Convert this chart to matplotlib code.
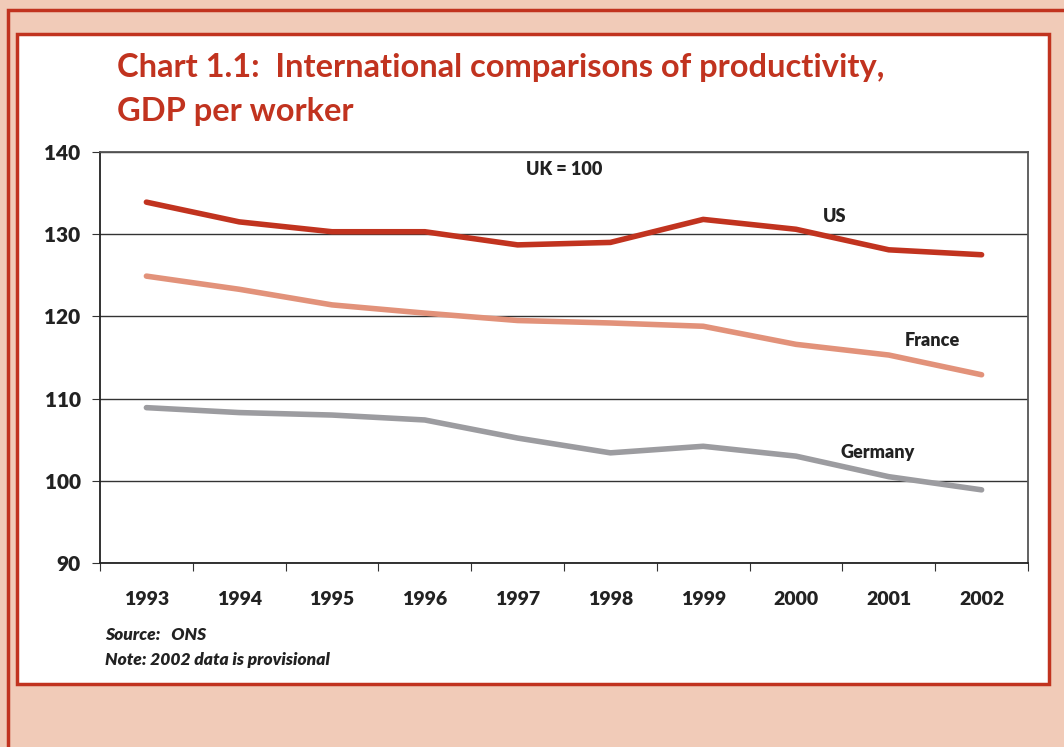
import matplotlib.pyplot as plt
from matplotlib.patches import Rectangle

# 데이터 (UK = 100)
years = ['1993', '1994', '1995', '1996', '1997', '1998', '1999', '2000', '2001', '2002']
us = [133.9, 131.5, 130.3, 130.3, 128.7, 129.0, 131.8, 130.6, 128.1, 127.5]
france = [124.9, 123.3, 121.4, 120.4, 119.5, 119.2, 118.8, 116.6, 115.3, 112.9]
germany = [108.9, 108.3, 108.0, 107.4, 105.2, 103.4, 104.2, 103.0, 100.5, 98.9]

RED = '#C1331F'
PINK = '#F1CBB8'
FONT = 'Lato'

W, H = 1064, 747
fig = plt.figure(figsize=(W / 100, H / 100), dpi=100)
fig.patch.set_facecolor(PINK)

def fx(px): return px / W
def fy(py): return 1 - py / H

# 바깥 테두리 + 안쪽 흰 박스 (축 뒤에 그림)
fig.patches.append(Rectangle((fx(8), fy(760)), fx(1100), fy(10) - fy(760),
                             transform=fig.transFigure, fill=False,
                             edgecolor=RED, linewidth=2.5, zorder=-2))
fig.patches.append(Rectangle((fx(17), fy(684)), fx(1049 - 17), fy(34) - fy(684),
                             transform=fig.transFigure, facecolor='white',
                             edgecolor=RED, linewidth=2.5, zorder=-1))

ax = fig.add_axes([fx(100), fy(563), fx(1028 - 100), fy(152) - fy(563)])
ax.set_facecolor('white')
x = range(len(years))
ax.plot(x, us, color=RED, lw=4, solid_capstyle='round', zorder=3)
ax.plot(x, france, color='#E2927A', lw=4, solid_capstyle='round', zorder=3)
ax.plot(x, germany, color='#9C9CA0', lw=4, solid_capstyle='round', zorder=3)

ax.set_xlim(-0.5, len(years) - 0.5)
ax.set_ylim(90, 140)
ax.set_yticks(range(90, 141, 10))
ax.set_yticklabels([str(v) for v in range(90, 141, 10)], fontsize=15,
                   fontfamily=FONT, fontweight='heavy', color='#222222')
ax.set_xticks([i - 0.5 for i in range(len(years) + 1)])
ax.set_xticklabels([])
ax.set_xticks(list(x), minor=True)
ax.set_xticklabels(years, minor=True, fontsize=14, fontfamily=FONT,
                   fontweight='heavy', color='#222222')
ax.tick_params(axis='x', which='major', length=6, color='#333333', direction='out')
ax.tick_params(axis='x', which='minor', length=0, pad=20)
ax.tick_params(axis='y', length=6, color='#333333', pad=8)
ax.grid(axis='y', color='#333333', linewidth=1)
for s in ['left', 'bottom']:
    ax.spines[s].set_color('#222222')
    ax.spines[s].set_linewidth(1.3)
for s in ['top', 'right']:
    ax.spines[s].set_color('#555555')
    ax.spines[s].set_linewidth(1.3)

# 라벨
lab = dict(fontsize=13, fontfamily=FONT, fontweight='heavy', color='#222222',
           ha='center', va='center')
ax.text(4.5, 137.9, 'UK = 100', **lab)
ax.text(7.42, 132.2, 'US', **lab)
ax.text(8.47, 117.1, 'France', **lab)
ax.text(7.88, 103.5, 'Germany', **lab)

# 제목
fig.text(fx(117), fy(67), 'Chart 1.1:  International comparisons of productivity,',
         fontsize=23.5, fontfamily=FONT, fontweight='bold', color=RED, va='center')
fig.text(fx(117), fy(112), 'GDP per worker',
         fontsize=23.5, fontfamily=FONT, fontweight='bold', color=RED, va='center')

# 출처
fig.text(fx(105), fy(635), 'Source:   ONS', fontsize=12.5, fontfamily=FONT,
         fontweight='heavy', fontstyle='italic', color='#222222', va='center')
fig.text(fx(105), fy(660), 'Note: 2002 data is provisional', fontsize=12.5,
         fontfamily=FONT, fontweight='heavy', fontstyle='italic', color='#222222',
         va='center')

fig.savefig('out.png', dpi=100, facecolor=PINK)
